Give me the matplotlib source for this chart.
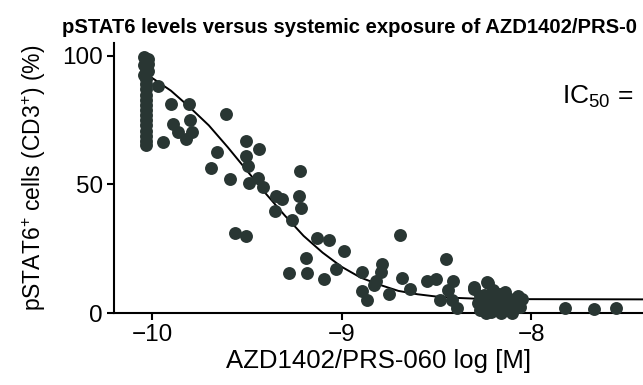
import matplotlib
matplotlib.use('Agg')
import matplotlib.pyplot as plt

plt.rcParams['font.family'] = ['Liberation Sans', 'DejaVu Sans']
plt.rcParams['mathtext.fontset'] = 'custom'
plt.rcParams['mathtext.rm'] = 'Liberation Sans'
plt.rcParams['mathtext.it'] = 'Liberation Sans:italic'
plt.rcParams['axes.unicode_minus'] = True

# vertical cluster of untreated / lowest exposure samples
cluster_x = [-10.04, -10.02, -10.03, -10.02, -10.04, -10.03, -10.02, -10.04, -10.03, -10.03, -10.03,
             -10.03, -10.03, -10.03, -10.03, -10.03, -10.03, -10.03, -10.03, -10.03, -10.03, -10.03]
cluster_y = [99.5, 99, 98, 97, 96.5, 95, 94, 92.5, 91, 89, 87,
             85, 83, 81, 79, 77, 75, 73, 71, 69, 67, 65.5]

# remaining samples
conc = [-9.967, -9.897, -9.804, -9.891, -9.80, -9.862, -9.82, -9.79, -9.94, -9.61,
        -9.657, -9.69, -9.587, -9.564, -9.503, -9.503, -9.433, -9.503, -9.494, -9.486,
        -9.44, -9.412, -9.345, -9.314, -9.349, -9.261, -9.218, -9.223, -9.214, -9.132,
        -9.066, -8.987, -9.188, -9.18, -9.279, -9.092, -9.030, -8.89, -8.89, -8.865,
        -8.693, -8.786, -8.79, -8.82, -8.83, -8.75, -8.68, -8.64, -8.55, -8.50,
        -8.45, -8.41, -8.48, -8.436, -8.418, -8.39, -8.30, -8.235,
        -8.30, -8.28, -8.27, -8.25, -8.23, -8.22, -8.21, -8.20, -8.19, -8.18, -8.17,
        -8.16, -8.15, -8.14, -8.13, -8.12, -8.10, -8.09, -8.07, -8.06, -8.05, -8.27, -8.24,
        -7.82, -7.67, -7.55]
pstat = [88.4, 81.5, 81.2, 73.7, 75, 70.6, 67.6, 70.6, 66.7, 77.3,
         62.8, 56.5, 52, 31.1, 30.1, 66.9, 63.7, 61.2, 57.2, 50.7,
         52.6, 49.1, 45.7, 44.4, 39.6, 36.3, 55.2, 45.7, 40.9, 29.2,
         28.5, 24.3, 21.4, 15.5, 15.7, 13.2, 17.1, 16, 8.5, 5,
         30.3, 19, 16.1, 12.6, 10.9, 7.3, 13.8, 9.3, 12.4, 13.2,
         21, 12.6, 5.1, 9, 5.1, 2, 10.2, 12.2,
         9.5, 4.0, 1.0, 7.0, 11.5, 3.0, 0.5, 9.0, 5.5, 2.0, 7.5,
         0.0, 4.5, 8.0, 2.5, 6.0, 0.0, 4.0, 6.5, 2.5, 5.5, 6.5, 0.0,
         2, 1.7, 2]

# fitted dose-response curve
fit_x = [-10.0, -9.9, -9.8, -9.7, -9.6, -9.5, -9.4, -9.3, -9.2, -9.1,
         -9.0, -8.9, -8.8, -8.7, -8.6, -8.5, -8.4, -8.3, -8.1, -7.4]
fit_y = [91.5, 86.5, 80, 73, 64.5, 55.5, 46.5, 38, 30, 23.5,
         18, 13.8, 11, 8.6, 7.3, 6.4, 5.9, 5.6, 5.4, 5.3]

dot_color = '#293633'

fig = plt.figure(figsize=(6.43, 3.85), dpi=100)
ax = fig.add_axes([0.1773, 0.187, 0.8227, 0.701])

ax.plot(fit_x, fit_y, color='black', lw=1.4, zorder=2)
ax.plot(cluster_x, cluster_y, 'o', ms=9.3, color=dot_color, mec='none', zorder=3, clip_on=False)
ax.plot(conc, pstat, 'o', ms=9.3, color=dot_color, mec='none', zorder=3, clip_on=False)

ax.set_xlim(-10.2, -7.41)
ax.set_ylim(0, 105)
ax.set_xticks([-10, -9, -8])
ax.set_yticks([0, 50, 100])
ax.spines['top'].set_visible(False)
ax.spines['right'].set_visible(False)
for s in ('left', 'bottom'):
    ax.spines[s].set_linewidth(1.5)
ax.tick_params(length=5, width=1.5, labelsize=17.5, pad=3)

ax.set_xlabel('AZD1402/PRS-060 log [M]', fontsize=18.5, labelpad=2)
ax.set_ylabel('pSTAT6$^{+}$ cells (CD3$^{+}$) (%)', fontsize=16.5, labelpad=10)

fig.text(0.096, 0.915, 'pSTAT6 levels versus systemic exposure of AZD1402/PRS-0',
         fontsize=14.6, fontweight='bold')
fig.text(0.874, 0.73, 'IC$_{50}$ =', fontsize=19)

fig.savefig('out.png', dpi=100)
